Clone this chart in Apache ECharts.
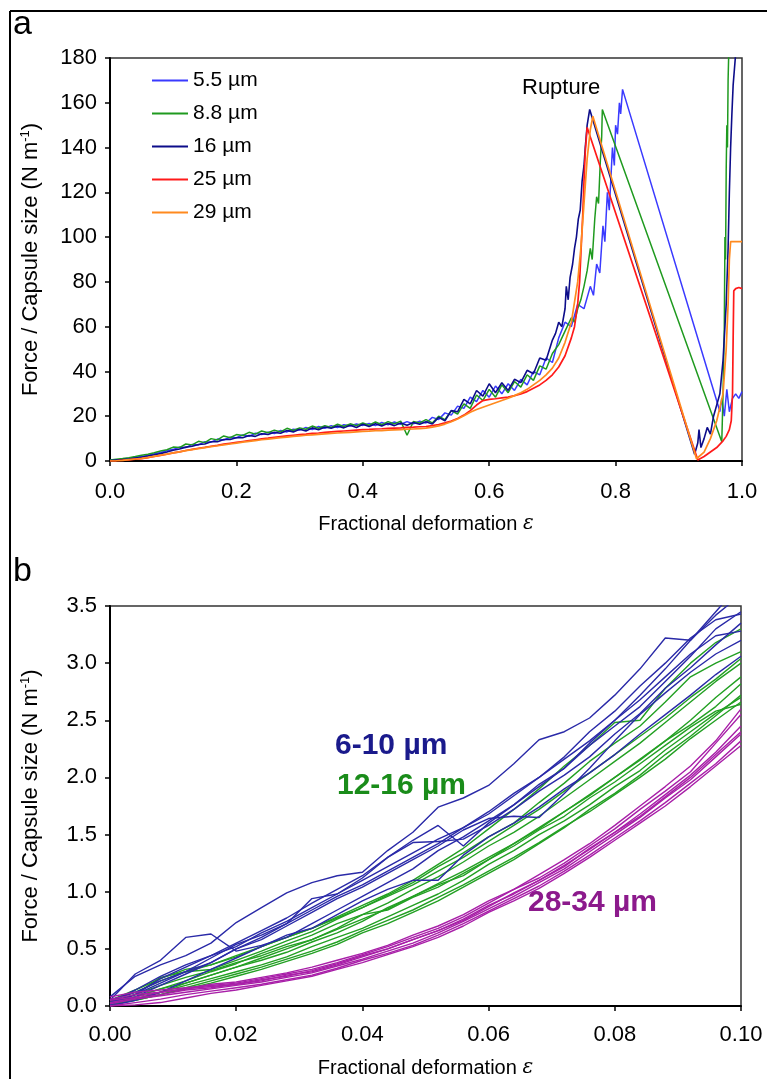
<!DOCTYPE html>
<html>
<head>
<meta charset="utf-8">
<script src="https://cdn.jsdelivr.net/npm/echarts@6/dist/echarts.min.js"></script>
<style>
html,body{margin:0;padding:0;background:#fff;}
#chart{width:767px;height:1079px;}
</style>
</head>
<body>
<div id="chart"></div>
<script>
// ---------- Panel a data ----------
const seriesNamesA = ['5.5 µm', '8.8 µm', '16 µm', '25 µm', '29 µm'];
const xTicksA = [0, 0.2, 0.4, 0.6, 0.8, 1.0];
const yTicksA = [0, 20, 40, 60, 80, 100, 120, 140, 160, 180];

// common strain grid for the low-deformation part (0 .. 0.70)
const epsA = [0,0.01,0.02,0.03,0.04,0.05,0.06,0.07,0.08,0.09,
  0.10,0.11,0.12,0.13,0.14,0.15,0.16,0.17,0.18,0.19,
  0.20,0.21,0.22,0.23,0.24,0.25,0.26,0.27,0.28,0.29,
  0.30,0.31,0.32,0.33,0.34,0.35,0.36,0.37,0.38,0.39,
  0.40,0.41,0.42,0.43,0.44,0.45,0.46,0.47,0.48,0.49,
  0.50,0.51,0.52,0.53,0.54,0.55,0.56,0.57,0.58,0.59,
  0.60,0.61,0.62,0.63,0.64,0.65,0.66,0.67,0.68,0.69,0.70];

const s55Base = [0.3,0.5,0.8,1.2,1.6,2.0,2.5,3.2,3.8,4.6,
  5.2,6.2,6.0,7.4,7.2,8.6,8.4,9.8,9.4,10.6,
  10.4,11.6,11.0,12.4,11.8,12.9,12.3,13.6,13.0,14.2,
  13.8,15.0,14.0,15.4,14.6,15.8,14.9,16.2,15.6,16.5,
  15.9,16.8,15.8,17.2,16.2,17.4,16.4,17.6,16.6,17.8,
  17.0,19.5,18.5,21.5,20.5,24.5,23.5,28.5,26.5,31.5,
  28.5,33.5,30.0,34.5,31.5,36.5,34.0,40.0,38.5,46.0,44.0];
const s55Tail = [[0.71,55],[0.72,62],[0.73,60],[0.74,70],[0.75,68],[0.76,78],[0.765,74],[0.77,88],
  [0.775,84],[0.78,105],[0.783,98],[0.787,120],[0.79,112],[0.795,140],[0.798,132],[0.80,150],
  [0.803,146],[0.806,160],[0.808,155],[0.811,166],
  [0.962,25],[0.965,22],[0.968,28],[0.972,20],[0.976,32],[0.98,22],[0.985,28],[0.99,30],[0.995,28],[1.0,31]];

const s88Base = [0.5,0.8,1.1,1.5,2.0,2.6,3.0,3.7,4.5,5.0,
  6.2,6.0,7.6,7.2,8.8,8.2,10.0,9.4,11.2,10.4,
  11.8,11.4,12.8,12.0,13.4,12.6,13.8,13.0,14.6,13.6,
  14.8,14.2,15.6,14.6,15.8,15.0,16.4,15.4,16.6,15.8,
  17.0,16.0,17.4,16.2,17.6,16.6,17.8,11.5,17.6,17.0,
  18.5,17.0,20.0,18.5,22.5,21.0,25.5,23.5,29.5,27.0,
  32.0,28.5,34.0,30.5,35.5,33.0,38.5,36.0,42.5,41.0,48.0];
const s88Tail = [[0.71,52],[0.72,58],[0.73,64],[0.735,62],[0.74,68],[0.745,72],[0.75,78],[0.755,85],
  [0.76,95],[0.763,90],[0.767,108],[0.77,118],[0.773,115],[0.776,135],[0.778,145],[0.779,157],
  [0.968,8.6],[0.97,30],[0.972,60],[0.973,100],[0.974,90],[0.975,130],[0.976,150],[0.977,140],[0.978,170],[0.979,182]];

const s16Base = [0.2,0.4,0.6,0.9,1.3,1.7,2.2,2.8,3.3,4.0,
  4.8,5.4,6.2,6.6,7.4,7.6,8.6,8.6,9.6,9.6,
  10.4,10.4,11.4,11.0,12.2,11.8,12.8,12.4,13.6,13.0,
  14.2,13.4,14.8,14.0,15.2,14.6,15.6,14.8,16.0,15.0,
  16.4,15.4,16.6,15.6,16.8,15.8,17.0,16.0,17.2,16.4,
  17.5,16.5,19.5,18.0,22.5,22.0,27.5,25.5,31.5,29.0,
  34.5,30.5,35.0,31.5,36.5,35.0,40.5,39.0,46.0,45.0,54.0];
const s16Tail = [[0.705,57],[0.71,62],[0.715,60],[0.72,68],[0.722,78],[0.725,72],[0.728,82],[0.732,88],
  [0.735,95],[0.738,100],[0.741,108],[0.744,112],[0.747,125],[0.75,132],[0.752,140],[0.755,150],[0.759,157],
  [0.925,3],[0.93,8],[0.932,14],[0.935,6],[0.94,10],[0.945,15],[0.95,12],[0.955,20],[0.96,25],[0.965,30],
  [0.97,45],[0.975,70],[0.978,95],[0.98,120],[0.982,140],[0.984,155],[0.986,168],[0.988,175],[0.99,182]];

const s25Base = [0,0.1,0.3,0.5,0.8,1.1,1.5,2.0,2.5,3.0,
  3.6,4.1,4.7,5.2,5.7,6.1,6.6,7.0,7.5,7.9,
  8.3,8.7,9.1,9.5,9.9,10.2,10.6,10.9,11.2,11.5,
  11.8,12.0,12.3,12.5,12.8,13.0,13.2,13.4,13.6,13.8,
  14.0,14.1,14.3,14.4,14.6,14.7,14.8,15.0,15.1,15.3,
  15.4,15.8,16.3,17.0,17.8,19.0,20.5,22.5,25.0,27.0,
  27.5,27.8,28.2,28.5,29.2,30.0,31.0,32.5,34.0,36.0,38.5];
const s25Tail = [[0.71,42],[0.72,47],[0.73,55],[0.735,60],[0.74,70],[0.743,80],[0.745,92],[0.748,110],
  [0.75,125],[0.752,138],[0.755,149],
  [0.93,0.5],[0.94,2],[0.95,4],[0.96,6],[0.97,9],[0.975,11],[0.98,14],[0.983,18],[0.985,30],[0.986,55],
  [0.987,76],[0.99,77],[0.995,77.5],[1.0,77]];

const s29Base = [0,0.1,0.3,0.6,0.9,1.2,1.6,2.1,2.6,3.1,
  3.6,4.1,4.6,5.1,5.5,6.0,6.4,6.8,7.2,7.6,
  8.0,8.4,8.8,9.1,9.5,9.8,10.1,10.4,10.7,11.0,
  11.2,11.5,11.7,11.9,12.1,12.3,12.5,12.7,12.8,13.0,
  13.2,13.3,13.5,13.6,13.8,13.9,14.0,14.2,14.3,14.5,
  14.7,15.1,15.7,16.5,17.5,18.8,20.2,21.8,23.0,24.0,
  25.0,26.0,27.0,28.0,29.2,30.5,32.0,34.0,36.0,38.5,41.5];
const s29Tail = [[0.71,46],[0.72,53],[0.73,62],[0.74,80],[0.745,95],[0.75,115],[0.755,135],[0.76,148],[0.764,154],
  [0.928,1],[0.94,4],[0.95,10],[0.96,18],[0.97,30],[0.975,50],[0.978,70],[0.98,90],[0.982,98],[0.99,98],[1.0,98]];

// ---------- Panel b data ----------
const xTicksB = [0, 0.02, 0.04, 0.06, 0.08, 0.10];
const yTicksB = [0, 0.5, 1.0, 1.5, 2.0, 2.5, 3.0, 3.5];
const epsB = [0,0.004,0.008,0.012,0.016,0.020,0.024,0.028,0.032,0.036,0.040,0.044,0.048,
  0.052,0.056,0.060,0.064,0.068,0.072,0.076,0.080,0.084,0.088,0.092,0.096,0.100];

const blueRuns = [
  [0.08,0.26,0.36,0.44,0.55,0.73,0.86,0.99,1.08,1.14,1.17,1.36,1.52,1.74,1.82,1.93,2.12,2.33,2.4,2.52,2.72,2.95,3.22,3.2,3.45,3.7],
  [0.05,0.28,0.4,0.6,0.63,0.48,0.53,0.6,0.72,0.84,0.96,1.08,1.2,1.36,1.48,1.62,1.76,1.94,2.08,2.28,2.45,2.62,2.84,3.06,3.3,3.45],
  [0.03,0.14,0.26,0.36,0.44,0.55,0.66,0.77,0.9,1.02,1.14,1.3,1.43,1.44,1.46,1.58,1.72,1.88,2.02,2.18,2.38,2.56,2.78,2.96,3.16,3.35],
  [0.02,0.1,0.2,0.3,0.42,0.54,0.62,0.72,0.94,0.98,1.12,1.3,1.45,1.58,1.4,1.6,1.76,1.92,2.08,2.3,2.5,2.72,2.95,3.2,3.42,3.6],
  [0.0,0.05,0.12,0.22,0.32,0.42,0.52,0.62,0.68,0.8,0.92,1.02,1.1,1.1,1.32,1.48,1.6,1.74,1.9,2.04,2.2,2.38,2.55,2.72,2.9,3.06],
  [0.01,0.08,0.18,0.28,0.38,0.5,0.58,0.7,0.82,0.94,1.04,1.16,1.28,1.4,1.54,1.64,1.66,1.65,1.86,2.08,2.32,2.55,2.74,2.92,3.08,3.2],
  [0.05,0.12,0.22,0.3,0.38,0.5,0.6,0.72,0.84,0.96,1.06,1.18,1.3,1.42,1.56,1.7,1.86,2.0,2.16,2.32,2.5,2.68,2.88,3.08,3.24,3.28],
  [0.03,0.1,0.24,0.34,0.44,0.52,0.64,0.74,0.86,0.98,1.1,1.22,1.34,1.46,1.56,1.68,1.84,2.0,2.18,2.4,2.58,2.8,3.0,3.22,3.38,3.43]
];
const greenRuns = [
  [0.05,0.12,0.22,0.3,0.36,0.44,0.52,0.6,0.68,0.78,0.88,0.98,1.1,1.24,1.38,1.55,1.72,1.9,2.1,2.28,2.48,2.5,2.78,3.0,3.18,3.3],
  [0.03,0.1,0.25,0.3,0.32,0.4,0.48,0.57,0.65,0.76,0.86,0.97,1.08,1.22,1.34,1.48,1.6,1.78,1.95,2.14,2.3,2.45,2.66,2.88,3.0,3.1],
  [0.02,0.08,0.15,0.22,0.3,0.37,0.46,0.54,0.62,0.72,0.8,0.9,1.02,1.13,1.26,1.4,1.52,1.66,1.82,1.98,2.14,2.3,2.48,2.66,2.84,3.0],
  [0.0,0.06,0.12,0.2,0.27,0.34,0.42,0.5,0.58,0.67,0.76,0.85,0.96,1.07,1.18,1.3,1.42,1.56,1.7,1.85,2.0,2.15,2.32,2.5,2.7,2.88],
  [0.04,0.1,0.18,0.25,0.31,0.38,0.44,0.52,0.58,0.68,0.8,0.84,0.95,1.04,1.16,1.28,1.42,1.55,1.7,1.84,2.0,2.16,2.32,2.46,2.62,2.82],
  [0.02,0.06,0.12,0.18,0.24,0.3,0.36,0.43,0.52,0.6,0.68,0.78,0.88,0.98,1.1,1.24,1.36,1.5,1.62,1.76,1.92,2.06,2.24,2.4,2.56,2.7],
  [0.01,0.05,0.1,0.16,0.22,0.28,0.34,0.41,0.48,0.56,0.66,0.75,0.84,0.95,1.06,1.18,1.3,1.43,1.57,1.7,1.85,2.0,2.16,2.34,2.5,2.66],
  [0.03,0.08,0.15,0.2,0.27,0.34,0.4,0.47,0.56,0.64,0.74,0.86,0.96,1.06,1.14,1.28,1.4,1.54,1.66,1.82,1.96,2.12,2.28,2.44,2.58,2.64],
  [0.02,0.05,0.1,0.15,0.2,0.26,0.32,0.39,0.46,0.54,0.64,0.72,0.82,0.92,1.04,1.16,1.28,1.42,1.56,1.72,1.86,2.02,2.2,2.36,2.54,2.72],
  [0.05,0.14,0.24,0.32,0.36,0.43,0.52,0.6,0.68,0.77,0.86,0.96,1.06,1.18,1.3,1.44,1.58,1.72,1.88,2.04,2.2,2.36,2.52,2.7,2.86,3.04]
];
const purpleRuns = [
  [0.08,0.12,0.14,0.16,0.18,0.2,0.24,0.28,0.32,0.38,0.45,0.52,0.6,0.68,0.78,0.9,1.02,1.12,1.25,1.4,1.55,1.72,1.88,2.05,2.3,2.55],
  [0.05,0.08,0.12,0.15,0.17,0.19,0.22,0.27,0.3,0.36,0.43,0.5,0.58,0.66,0.76,0.88,0.98,1.1,1.22,1.38,1.52,1.68,1.85,2.02,2.22,2.45],
  [0.02,0.06,0.09,0.12,0.15,0.18,0.21,0.25,0.29,0.35,0.41,0.48,0.55,0.64,0.74,0.85,0.96,1.08,1.2,1.35,1.5,1.65,1.82,1.98,2.18,2.38],
  [0.0,0.03,0.06,0.1,0.13,0.16,0.19,0.23,0.27,0.33,0.4,0.46,0.53,0.62,0.72,0.83,0.94,1.05,1.18,1.32,1.47,1.62,1.78,1.95,2.12,2.32],
  [0.0,0.01,0.03,0.07,0.11,0.14,0.18,0.22,0.26,0.32,0.38,0.45,0.52,0.6,0.7,0.82,0.92,1.03,1.16,1.3,1.45,1.6,1.75,1.92,2.1,2.28],
  [0.03,0.07,0.1,0.14,0.16,0.19,0.23,0.26,0.31,0.37,0.44,0.5,0.58,0.66,0.75,0.87,0.99,1.1,1.23,1.37,1.52,1.66,1.83,2.0,2.2,2.4],
  [0.06,0.1,0.12,0.15,0.19,0.21,0.25,0.29,0.34,0.4,0.46,0.53,0.62,0.7,0.8,0.92,1.02,1.15,1.28,1.42,1.58,1.75,1.92,2.1,2.32,2.6]
];
const groupLabelsB = ['6-10 µm', '12-16 µm', '28-34 µm'];

// ---------- build chart ----------
const FONT = "'Liberation Sans', Arial, sans-serif";
const colorsA = ['#3a3aff', '#1f9a1f', '#0d0d8a', '#ff1a1a', '#ff8a1f'];
const widthsA = [1.5, 1.5, 1.6, 1.7, 1.7];
const basesA = [s55Base, s88Base, s16Base, s25Base, s29Base];
const tailsA = [s55Tail, s88Tail, s16Tail, s25Tail, s29Tail];

const series = [];
seriesNamesA.forEach((name, k) => {
  const pts = basesA[k].map((y, i) => [epsA[i], y]).concat(tailsA[k]);
  series.push({
    name: name, type: 'line', xAxisIndex: 0, yAxisIndex: 0,
    data: pts, showSymbol: false, symbol: 'none',
    lineStyle: { width: widthsA[k], color: colorsA[k] }, itemStyle: { color: colorsA[k] },
    z: 2 + k
  });
});
function addRuns(runs, color, z) {
  runs.forEach((r) => {
    series.push({
      type: 'line', xAxisIndex: 1, yAxisIndex: 1,
      data: r.map((y, i) => [epsB[i], y]), showSymbol: false, symbol: 'none',
      lineStyle: { width: 1.4, color: color }, z: z
    });
  });
}
addRuns(greenRuns, '#23a023', 2);
addRuns(blueRuns, '#2a2aa8', 3);
addRuns(purpleRuns, '#a81fa8', 4);

const axisLine = { show: true, onZero: false, lineStyle: { color: '#000', width: 2 } };
const axisTick = { show: true, inside: false, length: 5, lineStyle: { color: '#000', width: 1.5 } };
const labelStyle = { color: '#000', fontSize: 22, fontFamily: FONT };
const yNameStyle = { color: '#000', fontSize: 22, fontFamily: FONT,
  rich: { sup: { fontSize: 13, fontFamily: FONT, color: '#000', verticalAlign: 'top', padding: [0, 0, 10, 0] } } };
const xNameStyle = { color: '#000', fontSize: 20, fontFamily: FONT,
  rich: { i: { fontSize: 20, fontFamily: 'DejaVu Serif', fontStyle: 'italic', color: '#000' } } };

const option = {
  animation: false,
  backgroundColor: '#fff',
  grid: [
    { left: 110, right: 25, top: 58, bottom: 618, show: true, borderColor: '#333', borderWidth: 1.5, backgroundColor: 'transparent' },
    { left: 110, right: 26, top: 606, bottom: 67, show: true, borderColor: '#333', borderWidth: 1.5, backgroundColor: 'transparent' }
  ],
  xAxis: [
    { type: 'value', gridIndex: 0, min: xTicksA[0], max: xTicksA[xTicksA.length - 1], interval: 0.2,
      axisLine, axisTick, splitLine: { show: false },
      axisLabel: Object.assign({ margin: 20, formatter: v => v.toFixed(1) }, labelStyle),
      name: 'Fractional deformation {i|ε}', nameLocation: 'middle', nameGap: 53, nameTextStyle: xNameStyle },
    { type: 'value', gridIndex: 1, min: xTicksB[0], max: xTicksB[xTicksB.length - 1], interval: 0.02,
      axisLine, axisTick, splitLine: { show: false },
      axisLabel: Object.assign({ margin: 18, formatter: v => v.toFixed(2) }, labelStyle),
      name: 'Fractional deformation {i|ε}', nameLocation: 'middle', nameGap: 52, nameTextStyle: xNameStyle }
  ],
  yAxis: [
    { type: 'value', gridIndex: 0, min: yTicksA[0], max: yTicksA[yTicksA.length - 1], interval: 20,
      axisLine, axisTick, splitLine: { show: false },
      axisLabel: Object.assign({ margin: 13 }, labelStyle),
      name: 'Force / Capsule size (N m{sup|-1})', nameLocation: 'middle', nameGap: 68, nameTextStyle: yNameStyle },
    { type: 'value', gridIndex: 1, min: yTicksB[0], max: yTicksB[yTicksB.length - 1], interval: 0.5,
      axisLine, axisTick, splitLine: { show: false },
      axisLabel: Object.assign({ margin: 13, formatter: v => v.toFixed(1) }, labelStyle),
      name: 'Force / Capsule size (N m{sup|-1})', nameLocation: 'middle', nameGap: 68, nameTextStyle: yNameStyle }
  ],
  legend: {
    data: seriesNamesA, orient: 'vertical', left: 147, top: 65,
    itemWidth: 36, itemHeight: 2, itemGap: 12, icon: 'rect',
    textStyle: { color: '#000', fontSize: 21, fontFamily: FONT }
  },
  graphic: [
    { type: 'line', shape: { x1: 10, y1: 11, x2: 10, y2: 1079 }, style: { stroke: '#000', lineWidth: 2 } },
    { type: 'line', shape: { x1: 10, y1: 11, x2: 767, y2: 11 }, style: { stroke: '#000', lineWidth: 2 } },
    { type: 'text', left: 13, top: 8, style: { text: 'a', fontSize: 34, fontFamily: FONT, fill: '#000' } },
    { type: 'text', left: 13, top: 555, style: { text: 'b', fontSize: 34, fontFamily: FONT, fill: '#000' } },
    { type: 'text', left: 522, top: 77, style: { text: 'Rupture', fontSize: 22, fontFamily: FONT, fill: '#000' } },
    { type: 'text', left: 335, top: 731, style: { text: groupLabelsB[0], fontSize: 30, fontWeight: 'bold', fontFamily: FONT, fill: '#1a1a8c' } },
    { type: 'text', left: 337, top: 771, style: { text: groupLabelsB[1], fontSize: 30, fontWeight: 'bold', fontFamily: FONT, fill: '#1a8c1a' } },
    { type: 'text', left: 528, top: 888, style: { text: groupLabelsB[2], fontSize: 30, fontWeight: 'bold', fontFamily: FONT, fill: '#8c1a8c' } }
  ],
  series: series
};

const chart = echarts.init(document.getElementById('chart'), null, { renderer: 'canvas' });
chart.setOption(option);
</script>
</body>
</html>
